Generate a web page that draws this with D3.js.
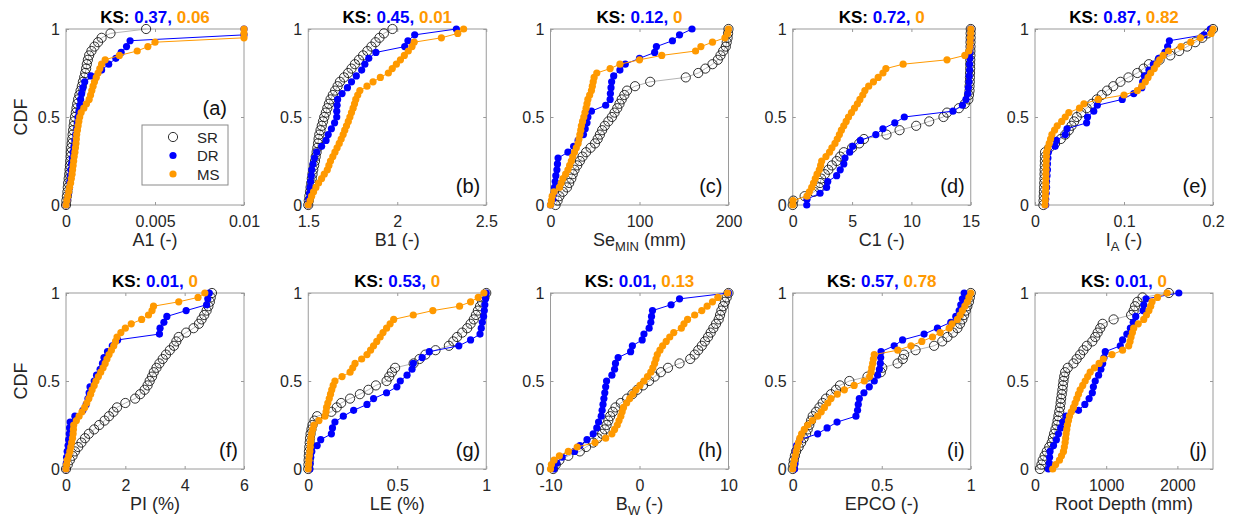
<!DOCTYPE html>
<html>
<head>
<meta charset="utf-8">
<script src="https://cdn.jsdelivr.net/npm/d3@7"></script>
<style>
  body { margin: 0; background: #fff; }
  text { font-family: "Liberation Sans", Arial, sans-serif; }
</style>
</head>
<body>
<svg id="chart" width="1233" height="526"></svg>
<script>
// ---- panel setup ----
const panelIds = ["a","b","c","d","e","f","g","h","i","j"];
const xDomains = [[0,0.01],[1.5,2.5],[0,200],[0,15],[0,0.2],[0,6],[0,1],[-10,10],[0,1],[0,2500]];
const xTicks = [[0,0.005,0.01],[1.5,2,2.5],[0,100,200],[0,5,10,15],[0,0.1,0.2],[0,2,4,6],[0,0.5,1],[-10,0,10],[0,0.5,1],[0,1000,2000]];
const xLabelMain = ["A1 (-)","B1 (-)","Se","C1 (-)","I","PI (%)","LE (%)","B","EPCO (-)","Root Depth (mm)"];
const xLabelSub  = ["","","MIN","","A","","","W","",""];
const xLabelRest = [""," ", " (mm)",""," (-)","",""," (-)","",""];
const ksDR = ["0.37","0.45","0.12","0.72","0.87","0.01","0.53","0.01","0.57","0.01"];
const ksMS = ["0.06","0.01","0","0","0.82","0","0","0.13","0.78","0"];
const yTicks = [0, 0.5, 1];
const legendNames = ["SR","DR","MS"];

// ---- sorted samples (CDF level = rank / (n-1)) ----
const sr_a = [0,0.00002,0.00005,0.00008,0.0001,0.00012,0.00015,0.00018,0.0002,0.00022,0.00024,0.00026,0.00027,0.00029,0.00032,0.00035,0.00037,0.0004,0.00043,0.00046,0.0005,0.00055,0.00059,0.00063,0.00068,0.00075,0.00082,0.00089,0.00095,0.00102,0.00108,0.00113,0.00117,0.00123,0.0013,0.00143,0.0016,0.0018,0.002,0.0025,0.0045];
const dr_a = [0,0.00008,0.00014,0.0002,0.00022,0.00025,0.00027,0.00031,0.00035,0.0004,0.00045,0.0005,0.00055,0.0006,0.00064,0.00068,0.00073,0.00078,0.00082,0.00088,0.00095,0.00105,0.0014,0.002,0.0024,0.0028,0.0031,0.0034,0.0036,0.01,0.01];
const ms_a = [0,0.00005,0.0001,0.00015,0.0002,0.00026,0.0003,0.00034,0.00037,0.0004,0.00043,0.00046,0.0005,0.00053,0.00056,0.00058,0.0006,0.00064,0.00068,0.00072,0.00077,0.00085,0.001,0.00115,0.0013,0.00138,0.00145,0.00152,0.0016,0.0017,0.0018,0.0019,0.002,0.0022,0.003,0.004,0.0046,0.005,0.01,0.01,0.01];

const sr_b = [1.5,1.503,1.506,1.51,1.513,1.517,1.52,1.524,1.528,1.533,1.538,1.542,1.547,1.551,1.555,1.558,1.562,1.569,1.576,1.583,1.59,1.599,1.607,1.616,1.625,1.638,1.651,1.665,1.678,1.701,1.724,1.743,1.762,1.785,1.808,1.832,1.855,1.878,1.9,1.925,1.973];
const dr_b = [1.5,1.503,1.507,1.51,1.513,1.517,1.52,1.527,1.535,1.547,1.575,1.6,1.612,1.63,1.648,1.66,1.66,1.662,1.665,1.69,1.72,1.743,1.77,1.8,1.818,1.84,1.88,2.042,2.06,2.098,2.332];
const ms_b = [1.5,1.51,1.519,1.53,1.543,1.558,1.575,1.59,1.607,1.616,1.625,1.638,1.65,1.662,1.674,1.685,1.696,1.705,1.715,1.725,1.734,1.743,1.752,1.76,1.767,1.778,1.79,1.83,1.864,1.905,1.95,1.972,1.995,2.018,2.04,2.062,2.083,2.095,2.248,2.34,2.373];

const sr_c = [5.7,8,10,14,18.5,21,23.4,25,27,30,33,36,40,45,50,53,55.5,58,61,65,69,72,75,77.5,80,83,86,95,112,152,166,174,182,188,191,194,197,198,199,199.5,200];
const dr_c = [0,2.5,3.8,4.5,5.3,6,7.2,7.8,8.5,19.6,26,31,37,39,41,42,46,62,67,67.3,68,68.7,71,78,84,100,117,119,137,145,159];
const ms_c = [0,1,1.9,4,10,12,14,17,19.6,21.5,23.4,25,27,29,31,32,33,34,34.7,36,37.4,38.7,40,41,42,44,46,47,48,49,52,67,78,100,125,163,169,182,196,199,200];

const sr_d = [0,0.05,1.0,1.8,2.2,2.3,2.4,2.7,3.0,3.3,3.7,4.0,4.3,5.0,5.6,6.0,7.9,9.0,10.4,11.5,12.7,13.0,14.0,14.5,14.8,14.85,14.9,14.9,14.92,14.93,14.94,14.95,14.95,14.96,14.97,14.97,14.98,14.98,14.99,14.99,15];
const dr_d = [1.18,1.2,2.3,2.85,2.95,3.7,4.0,4.3,4.4,4.8,5.05,5.7,7.0,7.6,8.6,9.4,13.5,14.3,14.6,14.75,14.8,14.85,14.87,14.9,14.9,14.92,14.93,14.95,14.96,14.98,15];
const ms_d = [0,0.02,1.2,1.4,1.6,1.75,1.9,2.05,2.24,2.35,2.44,2.8,3.1,3.3,3.56,3.75,3.93,4.1,4.3,4.5,4.7,4.95,5.2,5.45,5.66,5.9,6.08,6.4,6.8,7.2,7.6,7.85,9.3,13.0,14.5,14.85,14.93,14.95,14.97,14.99,15];

const sr_e = [0.0094,0.0096,0.0098,0.01,0.0102,0.0104,0.0106,0.0107,0.0108,0.011,0.0111,0.0112,0.0113,0.016,0.0226,0.029,0.034,0.038,0.041,0.044,0.047,0.052,0.058,0.064,0.0695,0.075,0.081,0.088,0.096,0.105,0.115,0.122,0.128,0.14,0.152,0.162,0.171,0.18,0.188,0.194,0.2];
const dr_e = [0.012,0.012,0.0125,0.013,0.013,0.0135,0.014,0.014,0.0145,0.015,0.0226,0.024,0.034,0.036,0.058,0.059,0.066,0.07,0.098,0.111,0.12,0.121,0.123,0.128,0.133,0.139,0.146,0.149,0.151,0.19,0.197];
const ms_e = [0.0113,0.0115,0.0117,0.0118,0.012,0.0121,0.0122,0.0123,0.0124,0.0125,0.0127,0.0128,0.013,0.0145,0.016,0.0175,0.019,0.022,0.025,0.03,0.034,0.038,0.05,0.055,0.071,0.1,0.115,0.12,0.124,0.127,0.13,0.134,0.137,0.14,0.144,0.15,0.164,0.175,0.186,0.198,0.2];

const sr_f = [0,0.06,0.13,0.22,0.3,0.41,0.52,0.64,0.77,0.95,1.12,1.3,1.45,1.6,1.72,2.0,2.33,2.5,2.65,2.75,2.82,2.9,2.96,3.05,3.15,3.26,3.37,3.5,3.64,3.72,3.8,4.05,4.3,4.48,4.57,4.66,4.74,4.8,4.85,4.88,4.92];
const dr_f = [0,0.01,0.02,0.04,0.07,0.09,0.11,0.12,0.14,0.3,0.57,0.68,0.74,0.78,0.81,0.95,1.03,1.15,1.23,1.28,1.4,1.56,1.74,3.15,3.17,3.3,3.4,4.05,4.74,4.78,4.83];
const ms_f = [0,0.02,0.04,0.09,0.13,0.16,0.19,0.22,0.24,0.25,0.26,0.35,0.44,0.54,0.63,0.7,0.77,0.83,0.88,0.95,1.01,1.09,1.17,1.25,1.32,1.38,1.45,1.53,1.61,1.67,1.72,1.85,2.0,2.2,2.55,2.78,2.9,2.95,3.8,4.45,4.68];

const sr_g = [0,0.001,0.002,0.003,0.004,0.006,0.008,0.01,0.013,0.018,0.024,0.035,0.05,0.13,0.16,0.185,0.235,0.29,0.338,0.38,0.44,0.455,0.47,0.488,0.592,0.625,0.658,0.715,0.79,0.815,0.836,0.865,0.893,0.912,0.93,0.942,0.953,0.965,0.977,0.99,1.0];
const dr_g = [0.009,0.011,0.014,0.02,0.05,0.07,0.13,0.136,0.15,0.197,0.255,0.33,0.367,0.44,0.498,0.517,0.555,0.583,0.59,0.64,0.68,0.846,0.912,0.965,0.972,0.978,0.985,0.989,0.992,0.996,1];
const ms_g = [0,0.002,0.004,0.006,0.009,0.011,0.013,0.016,0.019,0.025,0.032,0.06,0.094,0.1,0.103,0.11,0.118,0.125,0.132,0.14,0.15,0.19,0.235,0.25,0.263,0.3,0.33,0.35,0.367,0.385,0.404,0.42,0.44,0.46,0.48,0.59,0.7,0.85,0.912,0.955,0.987];

const sr_h = [-9.7,-9.4,-9.0,-8.0,-6.7,-6.0,-5.2,-4.7,-4.2,-3.9,-3.7,-3.5,-3.3,-3.0,-2.7,-2.1,-1.4,-0.8,-0.25,0.4,1.08,1.7,2.4,3.2,4.5,5.7,6.2,6.6,7.0,7.35,7.7,8.0,8.3,8.6,8.9,9.05,9.2,9.4,9.6,9.8,10];
const dr_h = [-9.6,-9.3,-8.7,-7.3,-6.7,-5.9,-5.2,-4.8,-4.6,-4.3,-4.2,-4.1,-4.0,-3.9,-3.8,-3.7,-3.1,-2.8,-2.7,-2.4,-1.0,-0.8,0.3,0.5,1.08,1.27,1.35,1.46,3.55,4.5,10];
const ms_h = [-10,-9.9,-9.6,-9.0,-8.0,-7.0,-5.0,-3.8,-3.1,-2.8,-2.5,-2.3,-2.1,-1.95,-1.8,-1.45,-1.1,-0.75,-0.4,0.05,0.5,0.9,1.27,1.5,1.7,1.85,2.0,2.3,2.6,3.0,3.4,3.85,4.7,5.0,5.4,6.2,7.0,7.6,8.2,8.8,9.9];

const sr_i = [0,0.003,0.006,0.012,0.019,0.033,0.047,0.061,0.075,0.084,0.093,0.103,0.112,0.131,0.15,0.168,0.187,0.215,0.243,0.265,0.318,0.42,0.495,0.503,0.589,0.618,0.626,0.69,0.794,0.84,0.869,0.9,0.925,0.94,0.953,0.963,0.972,0.981,0.99,0.995,1];
const dr_i = [0.01,0.012,0.013,0.015,0.022,0.04,0.14,0.193,0.249,0.355,0.364,0.368,0.374,0.4,0.43,0.458,0.477,0.487,0.492,0.494,0.496,0.57,0.617,0.738,0.813,0.888,0.916,0.935,0.944,0.953,0.963];
const ms_i = [0,0.004,0.009,0.014,0.019,0.025,0.032,0.04,0.05,0.065,0.084,0.11,0.14,0.16,0.178,0.197,0.215,0.25,0.29,0.345,0.402,0.432,0.44,0.444,0.449,0.453,0.458,0.59,0.664,0.725,0.785,0.828,0.879,0.895,0.925,0.94,0.953,0.967,0.981,0.99,1];

const sr_j = [70,90,108,135,165,200,235,252,268,287,305,317,329,340,352,360,367,376,385,392,400,410,423,460,540,585,634,680,728,805,846,880,916,950,1104,1350,1386,1405,1440,1510,1880];
const dr_j = [188,200,205,211,260,300,329,360,390,437,611,700,760,805,820,846,893,925,950,970,987,1198,1230,1290,1340,1380,1415,1518,1527,1560,2020];
const ms_j = [249,290,343,372,400,412,423,430,437,446,456,470,484,510,540,563,587,610,634,670,705,740,775,835,900,960,1081,1230,1316,1335,1349,1368,1386,1450,1527,1565,1600,1625,1644,1720,1856];

const srData = [sr_a,sr_b,sr_c,sr_d,sr_e,sr_f,sr_g,sr_h,sr_i,sr_j];
const drData = [dr_a,dr_b,dr_c,dr_d,dr_e,dr_f,dr_g,dr_h,dr_i,dr_j];
const msData = [ms_a,ms_b,ms_c,ms_d,ms_e,ms_f,ms_g,ms_h,ms_i,ms_j];

// ---- layout / style ----
const W = 178, H = 176;
const rowTop = [29, 293];
const colLeft = c => 66 + c * 242.25;
const boxColor = "#9a9a9a";
const tickText = "#262626";
const BLUE = "#0000ff", ORANGE = "#ff9900";

const svg = d3.select("#chart");

function toCdf(vals) {
  const n = vals.length;
  return vals.map((v, i) => [v, i / (n - 1)]);
}

function styleAxis(g, showLabels) {
  g.select(".domain").remove();
  g.selectAll("line").attr("stroke", boxColor);
  g.selectAll("text")
    .attr("fill", tickText)
    .style("font-size", "16px")
    .style("display", showLabels ? null : "none");
}

panelIds.forEach((id, k) => {
  const row = Math.floor(k / 5), col = k % 5;
  const left = colLeft(col), top = rowTop[row];

  const x = d3.scaleLinear().domain(xDomains[k]).range([left, left + W]);
  const y = d3.scaleLinear().domain([0, 1]).range([top + H, top]);

  const g = svg.append("g").attr("class", "panel-" + id);

  // box
  g.append("rect")
    .attr("x", left).attr("y", top).attr("width", W).attr("height", H)
    .attr("fill", "none").attr("stroke", boxColor).attr("stroke-width", 1);

  // axes, ticks pointing inward like matlab
  const fmt = d => String(d);
  g.append("g").attr("transform", `translate(0,${top + H})`)
    .call(d3.axisBottom(x).tickValues(xTicks[k]).tickSizeInner(-3).tickSizeOuter(0).tickPadding(11).tickFormat(fmt))
    .call(a => styleAxis(a, true));
  g.append("g").attr("transform", `translate(0,${top})`)
    .call(d3.axisTop(x).tickValues(xTicks[k]).tickSizeInner(-3).tickSizeOuter(0).tickFormat(fmt))
    .call(a => styleAxis(a, false));
  g.append("g").attr("transform", `translate(${left},0)`)
    .call(d3.axisLeft(y).tickValues(yTicks).tickSizeInner(-3).tickSizeOuter(0).tickPadding(6).tickFormat(fmt))
    .call(a => styleAxis(a, true));
  g.append("g").attr("transform", `translate(${left + W},0)`)
    .call(d3.axisRight(y).tickValues(yTicks).tickSizeInner(-3).tickSizeOuter(0).tickFormat(fmt))
    .call(a => styleAxis(a, false));

  const line = d3.line().x(d => x(d[0])).y(d => y(d[1]));

  // SR
  const sr = toCdf(srData[k]);
  g.append("path").datum(sr).attr("d", line)
    .attr("fill", "none").attr("stroke", "#b4b4b4").attr("stroke-width", 1);
  g.append("g").selectAll("circle").data(sr).enter().append("circle")
    .attr("cx", d => x(d[0])).attr("cy", d => y(d[1])).attr("r", 4.6)
    .attr("fill", "none").attr("stroke", "#1a1a1a").attr("stroke-width", 0.9);

  // DR
  const dr = toCdf(drData[k]);
  g.append("path").datum(dr).attr("d", line)
    .attr("fill", "none").attr("stroke", BLUE).attr("stroke-width", 1);
  g.append("g").selectAll("circle").data(dr).enter().append("circle")
    .attr("cx", d => x(d[0])).attr("cy", d => y(d[1])).attr("r", 3.6)
    .attr("fill", BLUE);

  // MS
  const ms = toCdf(msData[k]);
  g.append("path").datum(ms).attr("d", line)
    .attr("fill", "none").attr("stroke", ORANGE).attr("stroke-width", 1);
  g.append("g").selectAll("circle").data(ms).enter().append("circle")
    .attr("cx", d => x(d[0])).attr("cy", d => y(d[1])).attr("r", 3.6)
    .attr("fill", ORANGE);

  // KS title
  const t = g.append("text")
    .attr("x", left + W / 2).attr("y", top - 6)
    .attr("text-anchor", "middle")
    .style("font-size", "17px").style("font-weight", "bold");
  t.append("tspan").attr("fill", "#000").text("KS: ");
  t.append("tspan").attr("fill", BLUE).text(ksDR[k] + ", ");
  t.append("tspan").attr("fill", ORANGE).text(ksMS[k]);

  // x label (with subscript)
  const xl = g.append("text")
    .attr("x", left + W / 2).attr("y", top + H + 41)
    .attr("text-anchor", "middle").attr("fill", tickText)
    .style("font-size", "18px");
  xl.append("tspan").text(xLabelMain[k]);
  if (xLabelSub[k]) {
    xl.append("tspan").attr("dy", 5).style("font-size", "13px").text(xLabelSub[k]);
    xl.append("tspan").attr("dy", -5).text(xLabelRest[k]);
  }

  // y label
  if (col === 0) {
    g.append("text")
      .attr("transform", `translate(27,${top + H / 2}) rotate(-90)`)
      .attr("text-anchor", "middle").attr("fill", tickText)
      .style("font-size", "18px").text("CDF");
  }

  // panel letter
  const isA = id === "a";
  g.append("text")
    .attr("x", isA ? left + W - 17 : left + W - 6)
    .attr("y", isA ? top + 86 : top + H - 12)
    .attr("text-anchor", "end").attr("fill", "#111")
    .style("font-size", "20px").text(`(${id})`);

  // legend in (a)
  if (isA) {
    const lx = left + 76, ly = top + 96;
    const lg = g.append("g");
    lg.append("rect").attr("x", lx).attr("y", ly).attr("width", 86).attr("height", 60)
      .attr("fill", "#fff").attr("stroke", "#8a8a8a").attr("stroke-width", 1);
    legendNames.forEach((name, j) => {
      const cy = ly + 12 + j * 18.5;
      const c = lg.append("circle").attr("cx", lx + 31).attr("cy", cy);
      if (j === 0) c.attr("r", 4.6).attr("fill", "none").attr("stroke", "#1a1a1a").attr("stroke-width", 0.9);
      else c.attr("r", 3.6).attr("fill", j === 1 ? BLUE : ORANGE);
      lg.append("text").attr("x", lx + 55).attr("y", cy + 5.5)
        .attr("fill", tickText).style("font-size", "15px").text(name);
    });
  }
});
</script>
</body>
</html>
